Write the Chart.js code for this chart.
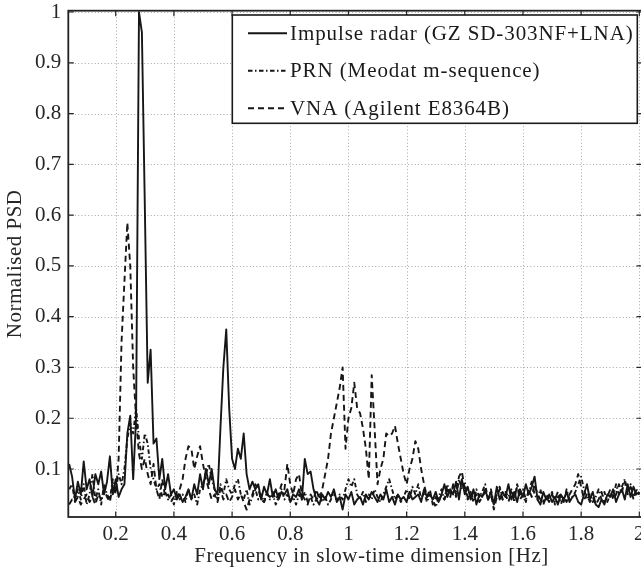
<!DOCTYPE html>
<html><head><meta charset="utf-8">
<script src="https://cdn.jsdelivr.net/npm/chart.js@4.4.0/dist/chart.umd.min.js"></script>
<style>html,body{margin:0;padding:0;background:#fff;overflow:hidden;width:641px;height:572px}canvas{display:block}</style>
</head><body><canvas id="c" width="660" height="572" style="width:660px;height:572px"></canvas>
<script>
// Frequency in slow-time dimension [Hz]
const freq = [
 0.04,0.05,0.06,0.07,0.08,0.09,0.10,0.11,0.12,0.13,
 0.14,0.15,0.16,0.17,0.18,0.19,0.20,0.21,0.22,0.23,
 0.24,0.25,0.26,0.27,0.28,0.29,0.30,0.31,0.32,0.33,
 0.34,0.35,0.36,0.37,0.38,0.39,0.40,0.41,0.42,0.43,
 0.44,0.45,0.46,0.47,0.48,0.49,0.50,0.51,0.52,0.53,
 0.54,0.55,0.56,0.57,0.58,0.59,0.60,0.61,0.62,0.63,
 0.64,0.65,0.66,0.67,0.68,0.69,0.70,0.71,0.72,0.73,
 0.74,0.75,0.76,0.77,0.78,0.79,0.80,0.81,0.82,0.83,
 0.84,0.85,0.86,0.87,0.88,0.89,0.90,0.91,0.92,0.93,
 0.94,0.95,0.96,0.97,0.98,0.99,1.00,1.01,1.02,1.03,
 1.04,1.05,1.06,1.07,1.08,1.09,1.10,1.11,1.12,1.13,
 1.14,1.15,1.16,1.17,1.18,1.19,1.20,1.21,1.22,1.23,
 1.24,1.25,1.26,1.27,1.28,1.29,1.30,1.31,1.32,1.33,
 1.34,1.35,1.36,1.37,1.38,1.39,1.40,1.41,1.42,1.43,
 1.44,1.45,1.46,1.47,1.48,1.49,1.50,1.51,1.52,1.53,
 1.54,1.55,1.56,1.57,1.58,1.59,1.60,1.61,1.62,1.63,
 1.64,1.65,1.66,1.67,1.68,1.69,1.70,1.71,1.72,1.73,
 1.74,1.75,1.76,1.77,1.78,1.79,1.80,1.81,1.82,1.83,
 1.84,1.85,1.86,1.87,1.88,1.89,1.90,1.91,1.92,1.93,
 1.94,1.95,1.96,1.97,1.98,1.99,2.00
];
// Impulse radar (GZ SD-303NF+LNA)
const impulse = [
 0.11,0.085,0.04,0.075,0.05,0.115,0.06,0.08,0.045,0.09,
 0.07,0.095,0.05,0.075,0.125,0.05,0.08,0.045,0.06,0.07,
 0.17,0.205,0.08,0.2,1.0,0.96,0.62,0.27,0.335,0.15,
 0.16,0.08,0.12,0.06,0.09,0.05,0.06,0.04,0.05,0.035,
 0.045,0.06,0.04,0.07,0.05,0.09,0.06,0.1,0.07,0.1,
 0.06,0.05,0.18,0.3,0.375,0.22,0.12,0.1,0.14,0.12,
 0.17,0.09,0.06,0.075,0.06,0.07,0.04,0.065,0.05,0.08,
 0.045,0.06,0.04,0.055,0.05,0.06,0.035,0.05,0.045,0.06,
 0.04,0.12,0.09,0.095,0.06,0.04,0.03,0.05,0.04,0.055,
 0.045,0.06,0.035,0.045,0.02,0.05,0.04,0.055,0.03,0.04,
 0.045,0.03,0.05,0.04,0.055,0.045,0.035,0.05,0.04,0.06,
 0.035,0.045,0.03,0.05,0.04,0.045,0.035,0.055,0.04,0.045,
 0.05,0.035,0.06,0.045,0.05,0.04,0.055,0.035,0.05,0.07,
 0.045,0.06,0.05,0.075,0.04,0.08,0.05,0.065,0.04,0.06,
 0.03,0.05,0.045,0.06,0.04,0.055,0.03,0.065,0.04,0.055,
 0.045,0.07,0.04,0.055,0.035,0.06,0.045,0.07,0.05,0.065,
 0.085,0.04,0.03,0.055,0.04,0.05,0.035,0.045,0.03,0.05,
 0.04,0.055,0.035,0.045,0.05,0.035,0.03,0.05,0.07,0.04,
 0.055,0.03,0.025,0.04,0.03,0.05,0.045,0.06,0.035,0.05,
 0.06,0.04,0.07,0.045,0.065,0.05,0.055
];
// PRN (Meodat m-sequence)
const prn = [
 0.06,0.07,0.035,0.06,0.04,0.07,0.03,0.05,0.09,0.04,
 0.06,0.03,0.07,0.05,0.04,0.08,0.06,0.09,0.07,0.1,
 0.16,0.19,0.17,0.22,0.16,0.12,0.17,0.15,0.1,0.08,
 0.06,0.07,0.045,0.055,0.04,0.05,0.03,0.055,0.04,0.05,
 0.035,0.06,0.04,0.05,0.03,0.06,0.07,0.09,0.11,0.08,
 0.06,0.04,0.07,0.05,0.08,0.06,0.05,0.07,0.08,0.05,
 0.04,0.06,0.03,0.045,0.06,0.04,0.05,0.035,0.055,0.04,
 0.05,0.03,0.045,0.06,0.04,0.05,0.035,0.045,0.03,0.05,
 0.04,0.055,0.035,0.045,0.03,0.04,0.05,0.035,0.045,0.03,
 0.04,0.055,0.035,0.05,0.04,0.06,0.08,0.065,0.08,0.05,
 0.04,0.055,0.035,0.05,0.04,0.06,0.045,0.035,0.05,0.065,
 0.08,0.06,0.04,0.05,0.035,0.045,0.06,0.04,0.065,0.05,
 0.07,0.04,0.055,0.035,0.05,0.04,0.025,0.045,0.06,0.04,
 0.07,0.05,0.065,0.045,0.08,0.06,0.075,0.04,0.05,0.035,
 0.06,0.045,0.055,0.07,0.04,0.06,0.03,0.05,0.065,0.04,
 0.055,0.045,0.06,0.035,0.07,0.05,0.06,0.04,0.055,0.075,
 0.05,0.04,0.06,0.035,0.05,0.04,0.055,0.03,0.045,0.05,
 0.035,0.06,0.04,0.045,0.055,0.07,0.085,0.06,0.04,0.05,
 0.035,0.045,0.06,0.04,0.055,0.035,0.05,0.045,0.07,0.05,
 0.065,0.08,0.055,0.07,0.045,0.06,0.05
];
// VNA (Agilent E8364B)
const vna = [
 0.03,0.04,0.035,0.045,0.03,0.04,0.05,0.035,0.045,0.03,
 0.05,0.04,0.06,0.045,0.035,0.07,0.05,0.12,0.35,0.47,
 0.585,0.5,0.3,0.2,0.13,0.1,0.12,0.09,0.07,0.11,
 0.06,0.04,0.08,0.045,0.05,0.035,0.045,0.04,0.06,0.08,
 0.12,0.145,0.14,0.1,0.125,0.145,0.11,0.08,0.06,0.04,
 0.05,0.035,0.06,0.04,0.05,0.035,0.045,0.06,0.04,0.05,
 0.035,0.02,0.04,0.05,0.07,0.06,0.04,0.035,0.05,0.045,
 0.055,0.04,0.05,0.07,0.06,0.11,0.07,0.05,0.08,0.09,
 0.05,0.04,0.03,0.05,0.04,0.06,0.04,0.06,0.09,0.12,
 0.17,0.2,0.23,0.26,0.3,0.14,0.2,0.22,0.27,0.22,
 0.21,0.18,0.14,0.08,0.285,0.18,0.07,0.1,0.12,0.17,
 0.165,0.17,0.185,0.15,0.12,0.09,0.07,0.1,0.12,0.155,
 0.14,0.1,0.07,0.045,0.06,0.03,0.045,0.035,0.05,0.04,
 0.06,0.045,0.07,0.05,0.085,0.095,0.06,0.045,0.055,0.04,
 0.05,0.035,0.045,0.055,0.04,0.05,0.02,0.045,0.06,0.04,
 0.05,0.035,0.055,0.045,0.065,0.04,0.05,0.035,0.06,0.045,
 0.07,0.05,0.04,0.03,0.045,0.035,0.05,0.04,0.055,0.03,
 0.045,0.035,0.05,0.06,0.07,0.09,0.065,0.04,0.05,0.035,
 0.045,0.03,0.04,0.055,0.035,0.045,0.06,0.04,0.05,0.07,
 0.055,0.075,0.05,0.065,0.04,0.06,0.05
];
const seriesNames = ['Impulse radar (GZ SD-303NF+LNA)','PRN (Meodat m-sequence)','VNA (Agilent E8364B)'];
const xTickValues = [0.2,0.4,0.6,0.8,1,1.2,1.4,1.6,1.8,2];
const xTickLabels = ['0.2','0.4','0.6','0.8','1','1.2','1.4','1.6','1.8','2'];
const yTickValues = [0.1,0.2,0.3,0.4,0.5,0.6,0.7,0.8,0.9,1];
const yTickLabels = ['0.1','0.2','0.3','0.4','0.5','0.6','0.7','0.8','0.9','1'];
const xTitle = 'Frequency in slow-time dimension [Hz]';
const yTitle = 'Normalised PSD';

const FONT = '"Liberation Serif", "Times New Roman", serif';
const INK = '#161616';
const LW = 1.9;
const dashes = [[], [4.5,2.5,1.5,2.5], [6,4]];

const frame = {
  id: 'frame',
  beforeDatasetsDraw(chart) {
    const {ctx, chartArea: a, scales: {x, y}} = chart;
    ctx.save();
    ctx.strokeStyle = '#a8a8a8';
    ctx.lineWidth = 1;
    ctx.setLineDash([1, 2.3]);
    xTickValues.forEach(v => {
      const px = Math.round(x.getPixelForValue(v)) + 0.5;
      ctx.beginPath(); ctx.moveTo(px, a.top); ctx.lineTo(px, a.bottom); ctx.stroke();
    });
    yTickValues.forEach(v => {
      const py = Math.round(y.getPixelForValue(v)) + 0.5;
      ctx.beginPath(); ctx.moveTo(a.left, py); ctx.lineTo(a.right, py); ctx.stroke();
    });
    ctx.restore();
  },
  afterDatasetsDraw(chart) {
    const {ctx, chartArea: a, scales: {x, y}} = chart;
    ctx.save();
    ctx.setLineDash([]);
    ctx.strokeStyle = '#262626';
    ctx.lineWidth = 1.2;
    const tl = 5.5;
    xTickValues.forEach(v => {
      const px = x.getPixelForValue(v);
      ctx.beginPath();
      ctx.moveTo(px, a.bottom); ctx.lineTo(px, a.bottom - tl);
      ctx.moveTo(px, a.top); ctx.lineTo(px, a.top + tl);
      ctx.stroke();
    });
    yTickValues.forEach(v => {
      const py = y.getPixelForValue(v);
      ctx.beginPath();
      ctx.moveTo(a.left, py); ctx.lineTo(a.left + tl, py);
      ctx.moveTo(a.right, py); ctx.lineTo(a.right - tl, py);
      ctx.stroke();
    });
    ctx.strokeStyle = '#222';
    ctx.lineWidth = 1.8;
    ctx.strokeRect(a.left, a.top, a.right - a.left, a.bottom - a.top);

    // legend
    const L = {x0: 232.3, y0: 15, x1: 637.3, y1: 123.3, sx0: 248, sx1: 287, tx: 290, rows: [33.3, 70.7, 108.3]};
    ctx.fillStyle = '#fff';
    ctx.fillRect(L.x0, L.y0, L.x1 - L.x0, L.y1 - L.y0);
    ctx.lineWidth = 1.6;
    ctx.strokeStyle = '#1a1a1a';
    ctx.strokeRect(L.x0, L.y0, L.x1 - L.x0, L.y1 - L.y0);
    ctx.font = '21px ' + FONT;
    ctx.textBaseline = 'middle';
    ctx.textAlign = 'left';
    ctx.fillStyle = '#1a1a1a';
    seriesNames.forEach((name, i) => {
      const ry = L.rows[i];
      ctx.setLineDash(dashes[i]);
      ctx.lineWidth = LW;
      ctx.strokeStyle = INK;
      ctx.beginPath(); ctx.moveTo(L.sx0, ry); ctx.lineTo(L.sx1, ry); ctx.stroke();
      ctx.setLineDash([]);
      try { ctx.letterSpacing = '0.9px'; } catch (e) {}
      ctx.fillText(name, L.tx, ry + 1);
      try { ctx.letterSpacing = '0px'; } catch (e) {}
    });
    ctx.restore();
  },
  afterDraw(chart) {
    const {ctx, chartArea: a} = chart;
    ctx.save();
    ctx.fillStyle = '#262626';
    ctx.font = '21px ' + FONT;
    ctx.textAlign = 'center';
    ctx.textBaseline = 'middle';
    try { ctx.letterSpacing = '0.5px'; } catch (e) {}
    ctx.fillText(xTitle, 371.5, 556.5);
    ctx.translate(15, (a.top + a.bottom) / 2);
    ctx.rotate(-Math.PI / 2);
    ctx.fillText(yTitle, 0, 0);
    ctx.restore();
  }
};

Chart.defaults.font.family = FONT;
const mk = (vals) => freq.map((f, i) => ({x: f, y: vals[i]}));
new Chart(document.getElementById('c'), {
  type: 'line',
  data: {
    datasets: [
      {label: seriesNames[0], data: mk(impulse), borderColor: INK, borderWidth: LW, borderDash: dashes[0]},
      {label: seriesNames[1], data: mk(prn), borderColor: INK, borderWidth: LW, borderDash: dashes[1]},
      {label: seriesNames[2], data: mk(vna), borderColor: INK, borderWidth: LW, borderDash: dashes[2]}
    ]
  },
  options: {
    responsive: false,
    animation: false,
    devicePixelRatio: 1,
    layout: {padding: {top: 10.7, right: 18, left: 0, bottom: 0}},
    elements: {point: {radius: 0}, line: {tension: 0, fill: false, borderJoinStyle: 'round', borderCapStyle: 'butt'}},
    plugins: {legend: {display: false}, tooltip: {enabled: false}},
    scales: {
      x: {
        type: 'linear', min: 0.037, max: 2.0092,
        afterBuildTicks: s => { s.ticks = xTickValues.map(v => ({value: v})); },
        afterFit: s => { s.height = 55; s.paddingLeft = 0; s.paddingRight = 0; s.paddingTop = 0; s.paddingBottom = 0; },
        grid: {display: false, drawTicks: false},
        border: {display: false},
        ticks: {
          autoSkip: false, maxRotation: 0, padding: 5, color: '#262626',
          font: {size: 21, family: FONT},
          callback: (v) => { const i = xTickValues.findIndex(t => Math.abs(t - v) < 1e-9); return i >= 0 ? xTickLabels[i] : ''; }
        }
      },
      y: {
        type: 'linear', min: 0.0055, max: 1.0026,
        afterBuildTicks: s => { s.ticks = yTickValues.map(v => ({value: v})); },
        afterFit: s => { s.width = 68.3; s.paddingTop = 0; s.paddingBottom = 0; s.paddingLeft = 0; s.paddingRight = 0; },
        grid: {display: false, drawTicks: false},
        border: {display: false},
        ticks: {
          autoSkip: false, padding: 7, color: '#262626',
          font: {size: 21, family: FONT},
          callback: (v) => { const i = yTickValues.findIndex(t => Math.abs(t - v) < 1e-9); return i >= 0 ? yTickLabels[i] : ''; }
        }
      }
    }
  },
  plugins: [frame]
});
</script>
</body></html>
